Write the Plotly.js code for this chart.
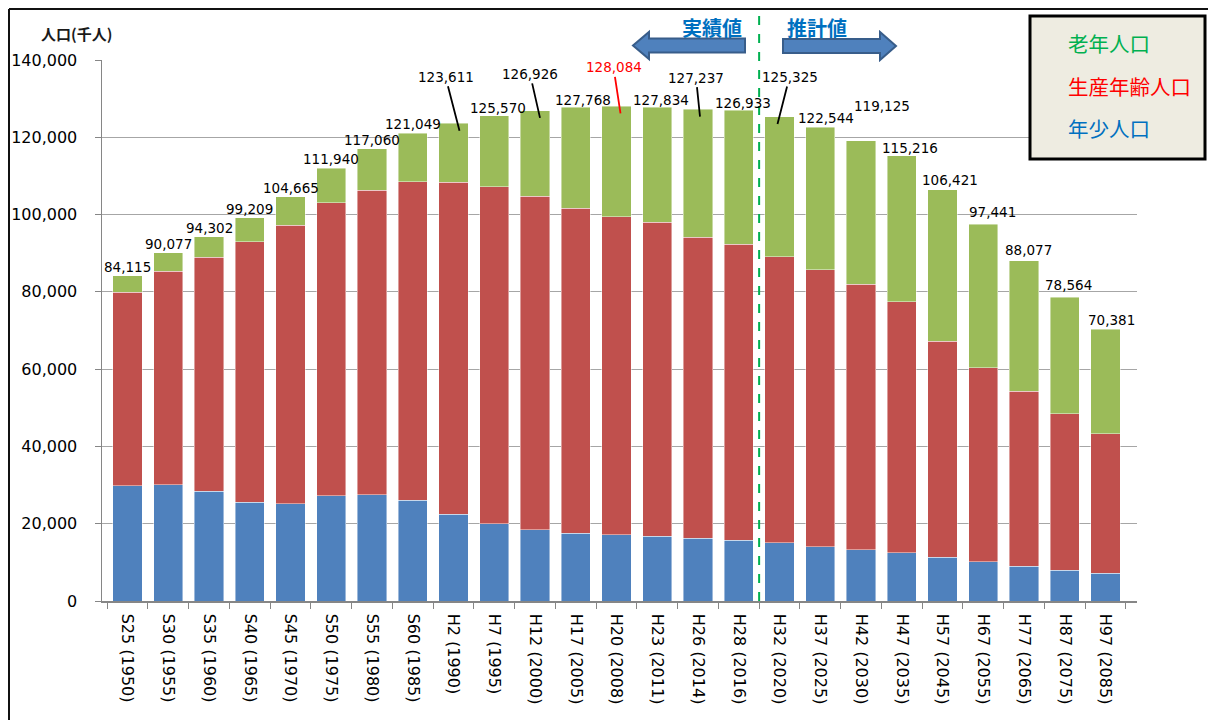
<!DOCTYPE html>
<html>
<head>
<meta charset="utf-8">
<script src="https://cdn.plot.ly/plotly-3.0.1.min.js"></script>
<style>
html,body{margin:0;padding:0;background:#fff;}
#chart{width:1208px;height:720px;}
</style>
</head>
<body>
<div id="chart"></div>
<script>
// ---- data (thousand persons) ----
const categories = ['S25 (1950)','S30 (1955)','S35 (1960)','S40 (1965)','S45 (1970)','S50 (1975)','S55 (1980)','S60 (1985)',
  'H2 (1990)','H7 (1995)','H12 (2000)','H17 (2005)','H20 (2008)','H23 (2011)','H26 (2014)','H28 (2016)',
  'H32 (2020)','H37 (2025)','H42 (2030)','H47 (2035)','H57 (2045)','H67 (2055)','H77 (2065)','H87 (2075)','H97 (2085)'];
const youngPop   = [29786,30123,28434,25529,25153,27221,27507,26033,22486,20014,18472,17521,17176,16705,16233,15780,15075,14073,13212,12457,11384,10123,8975,8023,7160];
const workingPop = [50168,55167,60470,67444,72119,75807,78835,82506,85904,87165,86220,84092,82300,81342,77850,76562,74058,71701,68754,64942,55845,50276,45291,40450,36137];
const elderlyPop = [4161,4787,5398,6236,7393,8912,10718,12510,15221,18391,22234,26155,28608,29787,33154,34591,36192,36770,37159,37817,39192,37042,33811,30091,27084];
const totalPop   = [84115,90077,94302,99209,104665,111940,117060,121049,123611,125570,126926,127768,128084,127834,127237,126933,125325,122544,119125,115216,106421,97441,88077,78564,70381];
const seriesNames = ['年少人口','生産年齢人口','老年人口'];
const highlightIndex = 12; // 128,084 peak

// ---- geometry helpers (plot area in pixels) ----
const L = 102, R = 1137, T = 60, B = 601;
const W = R - L, H = B - T;
const px = v => (v - L) / W;
const py = v => (B - v) / H;

const numFont = 'DejaVu Sans';
const cjkFont = 'Noto Sans CJK JP';

const barLine = {color: 'rgba(255,255,255,0.55)', width: 0.8};
const traces = [
  {type:'bar', name:seriesNames[0], x:categories, y:youngPop,   marker:{color:'#4F81BD', line:barLine}, hoverinfo:'skip'},
  {type:'bar', name:seriesNames[1], x:categories, y:workingPop, marker:{color:'#C0504D', line:barLine}, hoverinfo:'skip'},
  {type:'bar', name:seriesNames[2], x:categories, y:elderlyPop, marker:{color:'#9BBB59', line:barLine}, hoverinfo:'skip'}
];

// ---- total labels ----
const fmt = v => v.toLocaleString('en-US');
// label offsets (pixels): [xshift, yshift]
const plainOffsets = {9:[4,8],11:[7,7],13:[4,7],15:[4,7],17:[6,9],18:[21,35],19:[8,8],20:[7,10],21:[9,12],22:[4,11],23:[4,12],24:[6,9]};
// leader-line labels: [tip xshift, ax, ay]
const leaderOffsets = {8:[6,-14,-54],10:[5,-10,-44],12:[4,-7,-46],14:[2,-4,-39],16:[-2,12,-47]};

const annotations = [];
totalPop.forEach((t, i) => {
  const color = i === highlightIndex ? '#FF0000' : '#000000';
  if (leaderOffsets[i]) {
    const [xs, ax, ay] = leaderOffsets[i];
    annotations.push({x: categories[i], y: t - 1900, xref:'x', yref:'y', text: fmt(t),
      showarrow:true, arrowhead:0, arrowwidth:1.8, arrowcolor: color, ax: ax, ay: ay, xshift: xs,
      standoff:0, font:{family:numFont, size:13.5, color:color}});
  } else {
    const [xs, ys] = plainOffsets[i] || [0, 9];
    annotations.push({x: categories[i], y: t, xref:'x', yref:'y', text: fmt(t), showarrow:false,
      xanchor:'center', yanchor:'middle', xshift: xs, yshift: ys,
      font:{family:numFont, size:13.5, color:color}});
  }
});

// axis title
annotations.push({xref:'paper', yref:'paper', x: px(76), y: py(33), text:'人口(千人)', showarrow:false,
  xanchor:'center', yanchor:'middle', font:{family:cjkFont, size:15, color:'#1a1a1a', weight:'bold'}});
// 実績値 / 推計値
annotations.push({xref:'paper', yref:'paper', x: px(712), y: py(28), text:'実績値', showarrow:false,
  xanchor:'center', yanchor:'middle', font:{family:cjkFont, size:20, color:'#0070C0', weight:'bold'}});
annotations.push({xref:'paper', yref:'paper', x: px(817), y: py(28), text:'推計値', showarrow:false,
  xanchor:'center', yanchor:'middle', font:{family:cjkFont, size:20, color:'#0070C0', weight:'bold'}});
// legend texts
const legendItems = [['老年人口','#00B050',43],['生産年齢人口','#FF0000',86],['年少人口','#0070C0',128]];
legendItems.forEach(([txt, col, yy]) => {
  annotations.push({xref:'paper', yref:'paper', x: px(1066), y: py(yy), text: txt, showarrow:false,
    xanchor:'left', yanchor:'middle', font:{family:cjkFont, size:20.5, color: col}});
});

const pathFrom = pts => 'M ' + pts.map(p => px(p[0]).toFixed(5) + ',' + py(p[1]).toFixed(5)).join(' L ') + ' Z';
const leftArrow  = [[633,45.5],[649,32],[649,38.5],[745,38.5],[745,52.5],[649,52.5],[649,59]];
const rightArrow = [[783,39],[880,39],[880,32],[896,46],[880,60],[880,53],[783,53]];

const shapes = [
  // outer frame
  {type:'line', xref:'paper', yref:'paper', x0:px(9), x1:px(1210), y0:py(9), y1:py(9), line:{color:'#111', width:2}},
  {type:'line', xref:'paper', yref:'paper', x0:px(9), x1:px(9), y0:py(9), y1:py(725), line:{color:'#111', width:2}},
  // divider between actual and projected
  {type:'line', xref:'x', yref:'paper', x0:15.5, x1:15.5, y0:0, y1:py(13), line:{color:'#00B050', width:2, dash:'dash'}, layer:'above'},
  // arrows
  {type:'path', xref:'paper', yref:'paper', path: pathFrom(leftArrow),  fillcolor:'#4F81BD', line:{color:'#385D8A', width:2}},
  {type:'path', xref:'paper', yref:'paper', path: pathFrom(rightArrow), fillcolor:'#4F81BD', line:{color:'#385D8A', width:2}},
  // legend box
  {type:'rect', xref:'paper', yref:'paper', x0:px(1030), x1:px(1205), y0:py(16), y1:py(159), fillcolor:'#EEECE1', line:{color:'#000', width:3}, layer:'above'}
];

const layout = {
  width:1208, height:720,
  margin:{l:L, r:1208-R, t:T, b:720-B, autoexpand:false},
  paper_bgcolor:'#ffffff', plot_bgcolor:'#ffffff',
  barmode:'stack', bargap:0.28,
  showlegend:false,
  xaxis:{type:'category', tickangle:90, ticks:'outside', tickson:'boundaries', ticklen:6, tickcolor:'#868686',
    showline:true, linecolor:'#868686', linewidth:1.5, showgrid:false, ticklabelstandoff:8,
    tickfont:{family:numFont, size:16, color:'#000'}, automargin:false},
  yaxis:{range:[0,140000], dtick:20000, tickformat:',d', ticks:'outside', ticklen:6, tickcolor:'#868686',
    showline:true, linecolor:'#868686', linewidth:1.5, showgrid:true, gridcolor:'#A6A6A6', gridwidth:1,
    zeroline:false, ticklabelstandoff:14, tickfont:{family:numFont, size:16, color:'#000'}, automargin:false},
  annotations: annotations,
  shapes: shapes,
  font:{family:numFont}
};

Plotly.newPlot('chart', traces, layout, {staticPlot:true, displayModeBar:false});
</script>
</body>
</html>
